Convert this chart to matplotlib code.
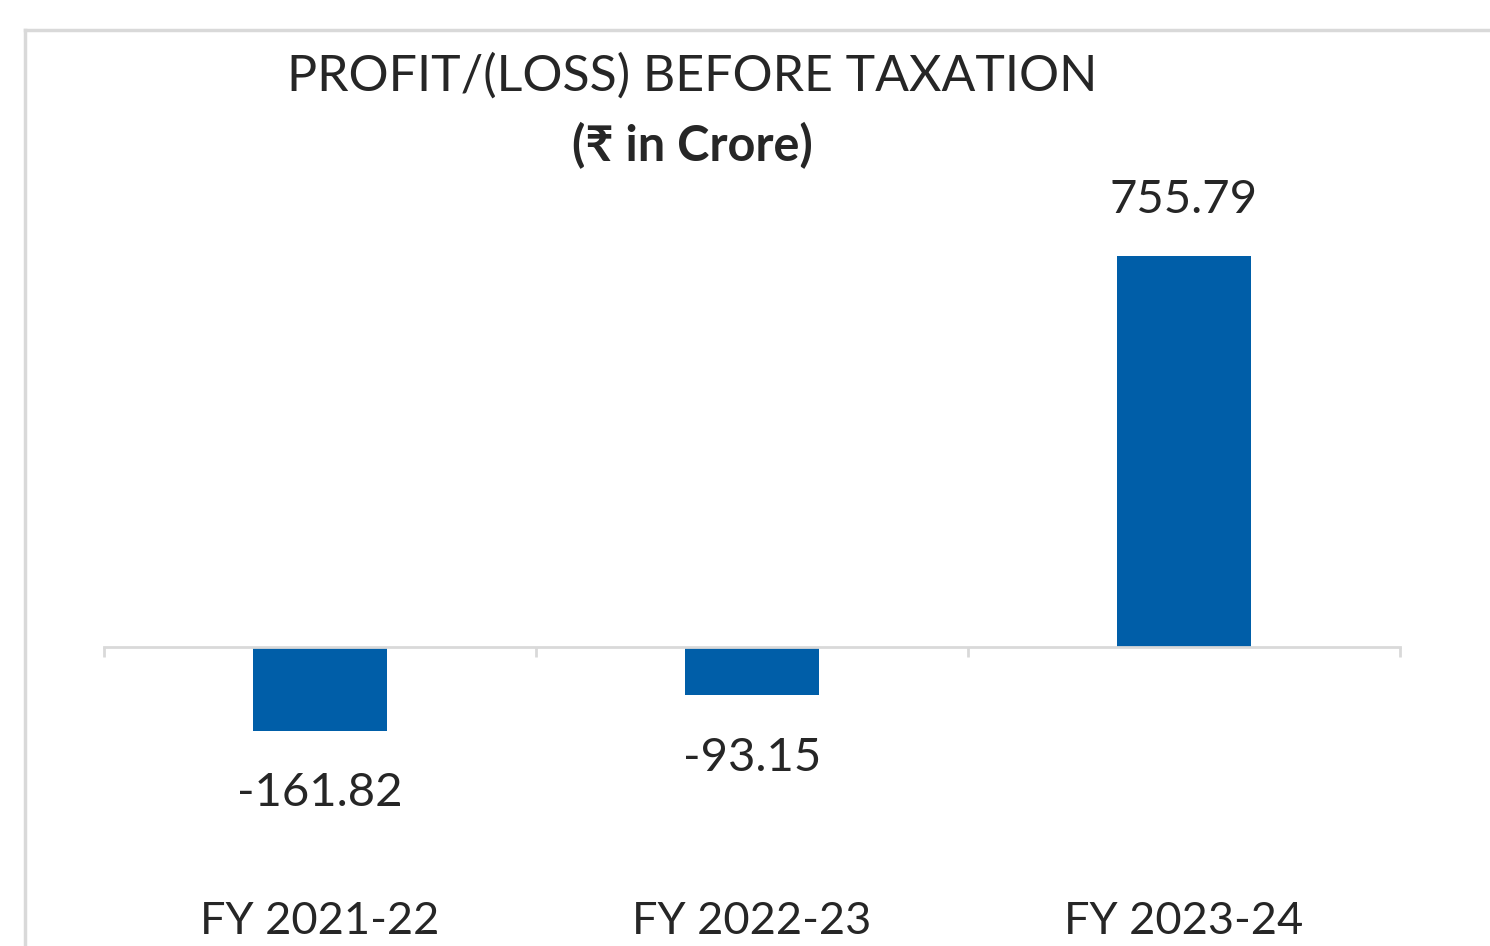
import matplotlib
matplotlib.use('Agg')
import matplotlib.pyplot as plt
from matplotlib.lines import Line2D

# === Data ===
years = ['FY 2021-22', 'FY 2022-23', 'FY 2023-24']
pbt = [-161.82, -93.15, 755.79]
labels = ['-161.82', '-93.15', '755.79']

plt.rcParams['font.family'] = ['Lato', 'Noto Sans', 'DejaVu Sans']

BLUE = '#005EA8'
GRID = '#d9d9d9'
TXT = '#262626'

fig = plt.figure(figsize=(14.9, 9.46), dpi=100)
W, H = 1490, 946

# chart frame (only top/left visible in the crop)
fig.add_artist(Line2D([25 / W, 25 / W], [0, 1 - 30 / H], transform=fig.transFigure, color=GRID, lw=2.5))
fig.add_artist(Line2D([25 / W, 1], [1 - 30 / H, 1 - 30 / H], transform=fig.transFigure, color=GRID, lw=2.5))

ax = fig.add_axes([104 / W, 1 - 750.5 / H, 1296 / W, 517.4 / H])
x = list(range(len(years)))
ax.bar(x, pbt, width=0.31, color=BLUE)
ax.set_xlim(-0.5, 2.5)
ax.set_ylim(-200, 800)

for s in ['top', 'left', 'right']:
    ax.spines[s].set_visible(False)
ax.spines['bottom'].set_position(('data', 0))
ax.spines['bottom'].set_color(GRID)
ax.spines['bottom'].set_linewidth(2)
ax.set_yticks([])
ax.set_xticks([-0.5, 0.5, 1.5, 2.5])
ax.set_xticklabels([])
ax.tick_params(axis='x', direction='out', length=7, width=2, color=GRID)

for xi, v, lab in zip(x, pbt, labels):
    off = 40 if v > 0 else -45
    ax.annotate(lab, (xi, v), xytext=(0, off), textcoords='offset points',
                ha='center', va='center', fontsize=34, color=TXT)

for xi, yr in zip(x, years):
    fig.text((104 + (xi + 0.5) * 432) / W, 1 - 921 / H, yr, ha='center', va='center',
             fontsize=32.5, color=TXT)

fig.text(692 / W, 1 - 76 / H, 'PROFIT/(LOSS) BEFORE TAXATION', ha='center', va='center',
         fontsize=36, color=TXT)
fig.text(692 / W, 1 - 146 / H, '(₹ in Crore)', ha='center', va='center',
         fontsize=35, fontweight='bold', color=TXT)

fig.savefig('out.png', dpi=100, facecolor='white')
